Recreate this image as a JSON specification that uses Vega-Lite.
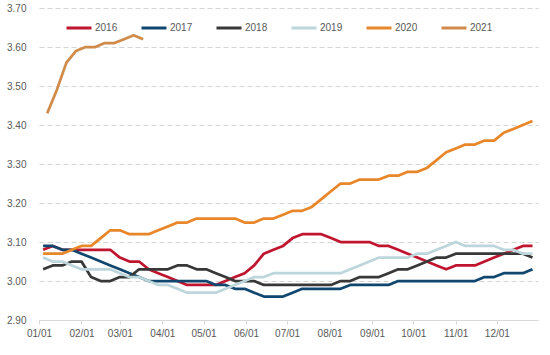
{
"$schema": "https://vega.github.io/schema/vega-lite/v6.json",
"width": 499, "height": 312,
"autosize": {"type": "none"},
"padding": {"left": 39, "top": 8, "right": 12, "bottom": 35},
"background": "white",
"config": {"view": {"stroke": null}, "font": "Liberation Sans"},
"data": {"values": [
{"year":"2016","date":"2001-01-04","price":3.08},{"year":"2016","date":"2001-01-11","price":3.09},{"year":"2016","date":"2001-01-18","price":3.08},{"year":"2016","date":"2001-01-25","price":3.08},{"year":"2016","date":"2001-02-01","price":3.08},{"year":"2016","date":"2001-02-08","price":3.08},{"year":"2016","date":"2001-02-15","price":3.08},{"year":"2016","date":"2001-02-22","price":3.08},{"year":"2016","date":"2001-03-01","price":3.06},{"year":"2016","date":"2001-03-08","price":3.05},{"year":"2016","date":"2001-03-15","price":3.05},{"year":"2016","date":"2001-03-22","price":3.03},{"year":"2016","date":"2001-03-29","price":3.02},{"year":"2016","date":"2001-04-05","price":3.01},{"year":"2016","date":"2001-04-12","price":3.00},{"year":"2016","date":"2001-04-19","price":2.99},{"year":"2016","date":"2001-04-26","price":2.99},{"year":"2016","date":"2001-05-03","price":2.99},{"year":"2016","date":"2001-05-10","price":2.99},{"year":"2016","date":"2001-05-17","price":3.00},{"year":"2016","date":"2001-05-24","price":3.01},{"year":"2016","date":"2001-05-31","price":3.02},{"year":"2016","date":"2001-06-07","price":3.04},{"year":"2016","date":"2001-06-14","price":3.07},{"year":"2016","date":"2001-06-21","price":3.08},{"year":"2016","date":"2001-06-28","price":3.09},{"year":"2016","date":"2001-07-05","price":3.11},{"year":"2016","date":"2001-07-12","price":3.12},{"year":"2016","date":"2001-07-19","price":3.12},{"year":"2016","date":"2001-07-26","price":3.12},{"year":"2016","date":"2001-08-02","price":3.11},{"year":"2016","date":"2001-08-09","price":3.10},{"year":"2016","date":"2001-08-16","price":3.10},{"year":"2016","date":"2001-08-23","price":3.10},{"year":"2016","date":"2001-08-30","price":3.10},{"year":"2016","date":"2001-09-06","price":3.09},{"year":"2016","date":"2001-09-13","price":3.09},{"year":"2016","date":"2001-09-20","price":3.08},{"year":"2016","date":"2001-09-27","price":3.07},{"year":"2016","date":"2001-10-04","price":3.06},{"year":"2016","date":"2001-10-11","price":3.05},{"year":"2016","date":"2001-10-18","price":3.04},{"year":"2016","date":"2001-10-25","price":3.03},{"year":"2016","date":"2001-11-01","price":3.04},{"year":"2016","date":"2001-11-08","price":3.04},{"year":"2016","date":"2001-11-15","price":3.04},{"year":"2016","date":"2001-11-22","price":3.05},{"year":"2016","date":"2001-11-29","price":3.06},{"year":"2016","date":"2001-12-06","price":3.07},{"year":"2016","date":"2001-12-13","price":3.08},{"year":"2016","date":"2001-12-20","price":3.09},{"year":"2016","date":"2001-12-27","price":3.09},
{"year":"2017","date":"2001-01-04","price":3.09},{"year":"2017","date":"2001-01-11","price":3.09},{"year":"2017","date":"2001-01-18","price":3.08},{"year":"2017","date":"2001-01-25","price":3.08},{"year":"2017","date":"2001-02-01","price":3.07},{"year":"2017","date":"2001-02-08","price":3.06},{"year":"2017","date":"2001-02-15","price":3.05},{"year":"2017","date":"2001-02-22","price":3.04},{"year":"2017","date":"2001-03-01","price":3.03},{"year":"2017","date":"2001-03-08","price":3.02},{"year":"2017","date":"2001-03-15","price":3.01},{"year":"2017","date":"2001-03-22","price":3.00},{"year":"2017","date":"2001-03-29","price":3.00},{"year":"2017","date":"2001-04-05","price":3.00},{"year":"2017","date":"2001-04-12","price":3.00},{"year":"2017","date":"2001-04-19","price":3.00},{"year":"2017","date":"2001-04-26","price":3.00},{"year":"2017","date":"2001-05-03","price":3.00},{"year":"2017","date":"2001-05-10","price":2.99},{"year":"2017","date":"2001-05-17","price":2.99},{"year":"2017","date":"2001-05-24","price":2.98},{"year":"2017","date":"2001-05-31","price":2.98},{"year":"2017","date":"2001-06-07","price":2.97},{"year":"2017","date":"2001-06-14","price":2.96},{"year":"2017","date":"2001-06-21","price":2.96},{"year":"2017","date":"2001-06-28","price":2.96},{"year":"2017","date":"2001-07-05","price":2.97},{"year":"2017","date":"2001-07-12","price":2.98},{"year":"2017","date":"2001-07-19","price":2.98},{"year":"2017","date":"2001-07-26","price":2.98},{"year":"2017","date":"2001-08-02","price":2.98},{"year":"2017","date":"2001-08-09","price":2.98},{"year":"2017","date":"2001-08-16","price":2.99},{"year":"2017","date":"2001-08-23","price":2.99},{"year":"2017","date":"2001-08-30","price":2.99},{"year":"2017","date":"2001-09-06","price":2.99},{"year":"2017","date":"2001-09-13","price":2.99},{"year":"2017","date":"2001-09-20","price":3.00},{"year":"2017","date":"2001-09-27","price":3.00},{"year":"2017","date":"2001-10-04","price":3.00},{"year":"2017","date":"2001-10-11","price":3.00},{"year":"2017","date":"2001-10-18","price":3.00},{"year":"2017","date":"2001-10-25","price":3.00},{"year":"2017","date":"2001-11-01","price":3.00},{"year":"2017","date":"2001-11-08","price":3.00},{"year":"2017","date":"2001-11-15","price":3.00},{"year":"2017","date":"2001-11-22","price":3.01},{"year":"2017","date":"2001-11-29","price":3.01},{"year":"2017","date":"2001-12-06","price":3.02},{"year":"2017","date":"2001-12-13","price":3.02},{"year":"2017","date":"2001-12-20","price":3.02},{"year":"2017","date":"2001-12-27","price":3.03},
{"year":"2018","date":"2001-01-04","price":3.03},{"year":"2018","date":"2001-01-11","price":3.04},{"year":"2018","date":"2001-01-18","price":3.04},{"year":"2018","date":"2001-01-25","price":3.05},{"year":"2018","date":"2001-02-01","price":3.05},{"year":"2018","date":"2001-02-08","price":3.01},{"year":"2018","date":"2001-02-15","price":3.00},{"year":"2018","date":"2001-02-22","price":3.00},{"year":"2018","date":"2001-03-01","price":3.01},{"year":"2018","date":"2001-03-08","price":3.01},{"year":"2018","date":"2001-03-15","price":3.03},{"year":"2018","date":"2001-03-22","price":3.03},{"year":"2018","date":"2001-03-29","price":3.03},{"year":"2018","date":"2001-04-05","price":3.03},{"year":"2018","date":"2001-04-12","price":3.04},{"year":"2018","date":"2001-04-19","price":3.04},{"year":"2018","date":"2001-04-26","price":3.03},{"year":"2018","date":"2001-05-03","price":3.03},{"year":"2018","date":"2001-05-10","price":3.02},{"year":"2018","date":"2001-05-17","price":3.01},{"year":"2018","date":"2001-05-24","price":3.00},{"year":"2018","date":"2001-05-31","price":3.00},{"year":"2018","date":"2001-06-07","price":3.00},{"year":"2018","date":"2001-06-14","price":2.99},{"year":"2018","date":"2001-06-21","price":2.99},{"year":"2018","date":"2001-06-28","price":2.99},{"year":"2018","date":"2001-07-05","price":2.99},{"year":"2018","date":"2001-07-12","price":2.99},{"year":"2018","date":"2001-07-19","price":2.99},{"year":"2018","date":"2001-07-26","price":2.99},{"year":"2018","date":"2001-08-02","price":2.99},{"year":"2018","date":"2001-08-09","price":3.00},{"year":"2018","date":"2001-08-16","price":3.00},{"year":"2018","date":"2001-08-23","price":3.01},{"year":"2018","date":"2001-08-30","price":3.01},{"year":"2018","date":"2001-09-06","price":3.01},{"year":"2018","date":"2001-09-13","price":3.02},{"year":"2018","date":"2001-09-20","price":3.03},{"year":"2018","date":"2001-09-27","price":3.03},{"year":"2018","date":"2001-10-04","price":3.04},{"year":"2018","date":"2001-10-11","price":3.05},{"year":"2018","date":"2001-10-18","price":3.06},{"year":"2018","date":"2001-10-25","price":3.06},{"year":"2018","date":"2001-11-01","price":3.07},{"year":"2018","date":"2001-11-08","price":3.07},{"year":"2018","date":"2001-11-15","price":3.07},{"year":"2018","date":"2001-11-22","price":3.07},{"year":"2018","date":"2001-11-29","price":3.07},{"year":"2018","date":"2001-12-06","price":3.07},{"year":"2018","date":"2001-12-13","price":3.07},{"year":"2018","date":"2001-12-20","price":3.07},{"year":"2018","date":"2001-12-27","price":3.06},
{"year":"2019","date":"2001-01-04","price":3.06},{"year":"2019","date":"2001-01-11","price":3.05},{"year":"2019","date":"2001-01-18","price":3.05},{"year":"2019","date":"2001-01-25","price":3.04},{"year":"2019","date":"2001-02-01","price":3.03},{"year":"2019","date":"2001-02-08","price":3.03},{"year":"2019","date":"2001-02-15","price":3.03},{"year":"2019","date":"2001-02-22","price":3.03},{"year":"2019","date":"2001-03-01","price":3.02},{"year":"2019","date":"2001-03-08","price":3.01},{"year":"2019","date":"2001-03-15","price":3.01},{"year":"2019","date":"2001-03-22","price":3.00},{"year":"2019","date":"2001-03-29","price":2.99},{"year":"2019","date":"2001-04-05","price":2.99},{"year":"2019","date":"2001-04-12","price":2.98},{"year":"2019","date":"2001-04-19","price":2.97},{"year":"2019","date":"2001-04-26","price":2.97},{"year":"2019","date":"2001-05-03","price":2.97},{"year":"2019","date":"2001-05-10","price":2.97},{"year":"2019","date":"2001-05-17","price":2.98},{"year":"2019","date":"2001-05-24","price":2.99},{"year":"2019","date":"2001-05-31","price":3.00},{"year":"2019","date":"2001-06-07","price":3.01},{"year":"2019","date":"2001-06-14","price":3.01},{"year":"2019","date":"2001-06-21","price":3.02},{"year":"2019","date":"2001-06-28","price":3.02},{"year":"2019","date":"2001-07-05","price":3.02},{"year":"2019","date":"2001-07-12","price":3.02},{"year":"2019","date":"2001-07-19","price":3.02},{"year":"2019","date":"2001-07-26","price":3.02},{"year":"2019","date":"2001-08-02","price":3.02},{"year":"2019","date":"2001-08-09","price":3.02},{"year":"2019","date":"2001-08-16","price":3.03},{"year":"2019","date":"2001-08-23","price":3.04},{"year":"2019","date":"2001-08-30","price":3.05},{"year":"2019","date":"2001-09-06","price":3.06},{"year":"2019","date":"2001-09-13","price":3.06},{"year":"2019","date":"2001-09-20","price":3.06},{"year":"2019","date":"2001-09-27","price":3.06},{"year":"2019","date":"2001-10-04","price":3.07},{"year":"2019","date":"2001-10-11","price":3.07},{"year":"2019","date":"2001-10-18","price":3.08},{"year":"2019","date":"2001-10-25","price":3.09},{"year":"2019","date":"2001-11-01","price":3.10},{"year":"2019","date":"2001-11-08","price":3.09},{"year":"2019","date":"2001-11-15","price":3.09},{"year":"2019","date":"2001-11-22","price":3.09},{"year":"2019","date":"2001-11-29","price":3.09},{"year":"2019","date":"2001-12-06","price":3.08},{"year":"2019","date":"2001-12-13","price":3.08},{"year":"2019","date":"2001-12-20","price":3.07},{"year":"2019","date":"2001-12-27","price":3.07},
{"year":"2020","date":"2001-01-04","price":3.07},{"year":"2020","date":"2001-01-11","price":3.07},{"year":"2020","date":"2001-01-18","price":3.07},{"year":"2020","date":"2001-01-25","price":3.08},{"year":"2020","date":"2001-02-01","price":3.09},{"year":"2020","date":"2001-02-08","price":3.09},{"year":"2020","date":"2001-02-15","price":3.11},{"year":"2020","date":"2001-02-22","price":3.13},{"year":"2020","date":"2001-03-01","price":3.13},{"year":"2020","date":"2001-03-08","price":3.12},{"year":"2020","date":"2001-03-15","price":3.12},{"year":"2020","date":"2001-03-22","price":3.12},{"year":"2020","date":"2001-03-29","price":3.13},{"year":"2020","date":"2001-04-05","price":3.14},{"year":"2020","date":"2001-04-12","price":3.15},{"year":"2020","date":"2001-04-19","price":3.15},{"year":"2020","date":"2001-04-26","price":3.16},{"year":"2020","date":"2001-05-03","price":3.16},{"year":"2020","date":"2001-05-10","price":3.16},{"year":"2020","date":"2001-05-17","price":3.16},{"year":"2020","date":"2001-05-24","price":3.16},{"year":"2020","date":"2001-05-31","price":3.15},{"year":"2020","date":"2001-06-07","price":3.15},{"year":"2020","date":"2001-06-14","price":3.16},{"year":"2020","date":"2001-06-21","price":3.16},{"year":"2020","date":"2001-06-28","price":3.17},{"year":"2020","date":"2001-07-05","price":3.18},{"year":"2020","date":"2001-07-12","price":3.18},{"year":"2020","date":"2001-07-19","price":3.19},{"year":"2020","date":"2001-07-26","price":3.21},{"year":"2020","date":"2001-08-02","price":3.23},{"year":"2020","date":"2001-08-09","price":3.25},{"year":"2020","date":"2001-08-16","price":3.25},{"year":"2020","date":"2001-08-23","price":3.26},{"year":"2020","date":"2001-08-30","price":3.26},{"year":"2020","date":"2001-09-06","price":3.26},{"year":"2020","date":"2001-09-13","price":3.27},{"year":"2020","date":"2001-09-20","price":3.27},{"year":"2020","date":"2001-09-27","price":3.28},{"year":"2020","date":"2001-10-04","price":3.28},{"year":"2020","date":"2001-10-11","price":3.29},{"year":"2020","date":"2001-10-18","price":3.31},{"year":"2020","date":"2001-10-25","price":3.33},{"year":"2020","date":"2001-11-01","price":3.34},{"year":"2020","date":"2001-11-08","price":3.35},{"year":"2020","date":"2001-11-15","price":3.35},{"year":"2020","date":"2001-11-22","price":3.36},{"year":"2020","date":"2001-11-29","price":3.36},{"year":"2020","date":"2001-12-06","price":3.38},{"year":"2020","date":"2001-12-13","price":3.39},{"year":"2020","date":"2001-12-20","price":3.40},{"year":"2020","date":"2001-12-27","price":3.41},
{"year":"2021","date":"2001-01-07","price":3.43},{"year":"2021","date":"2001-01-14","price":3.49},{"year":"2021","date":"2001-01-21","price":3.56},{"year":"2021","date":"2001-01-28","price":3.59},{"year":"2021","date":"2001-02-04","price":3.60},{"year":"2021","date":"2001-02-11","price":3.60},{"year":"2021","date":"2001-02-18","price":3.61},{"year":"2021","date":"2001-02-25","price":3.61},{"year":"2021","date":"2001-03-04","price":3.62},{"year":"2021","date":"2001-03-11","price":3.63},{"year":"2021","date":"2001-03-18","price":3.62}
]},
"mark": {"type": "line", "strokeWidth": 2.75, "strokeJoin": "round"},
"encoding": {
  "x": {"field": "date", "type": "temporal",
    "scale": {"type": "utc", "domain": [{"year": 2001, "month": 1, "date": 1, "utc": true}, {"year": 2001, "month": 12, "date": 31, "utc": true}]},
    "axis": {"title": null, "labelExpr": "utcFormat(datum.value, '%m/%d')", "tickCount": "month", "grid": false,
      "domainColor": "#d9d9d9", "tickColor": "#d9d9d9", "tickSize": 4, "labelColor": "#595959", "labelFontSize": 10,
      "labelPadding": 4, "labelFlush": false, "labelOverlap": false}},
  "y": {"field": "price", "type": "quantitative",
    "scale": {"domain": [2.9, 3.7], "nice": false, "zero": false},
    "axis": {"title": null, "values": [2.9, 3.0, 3.1, 3.2, 3.3, 3.4, 3.5, 3.6, 3.7], "format": ".2f",
      "domain": false, "ticks": false, "grid": true, "gridDash": [5, 3], "gridColor": "#d4d4d4",
      "labelColor": "#595959", "labelFontSize": 10, "labelPadding": 13}},
  "color": {"field": "year", "type": "nominal",
    "scale": {"domain": ["2016", "2017", "2018", "2019", "2020", "2021"],
      "range": ["#C0152F", "#11476F", "#383838", "#BDD6DC", "#E8862A", "#D08B4A"]},
    "legend": {"title": null, "orient": "none", "legendX": 26, "legendY": 6, "direction": "horizontal",
      "symbolType": "stroke", "symbolSize": 625, "symbolStrokeWidth": 3, "labelOffset": 2,
      "columnPadding": 17, "labelFontSize": 10, "labelColor": "#595959"}}
}
}
